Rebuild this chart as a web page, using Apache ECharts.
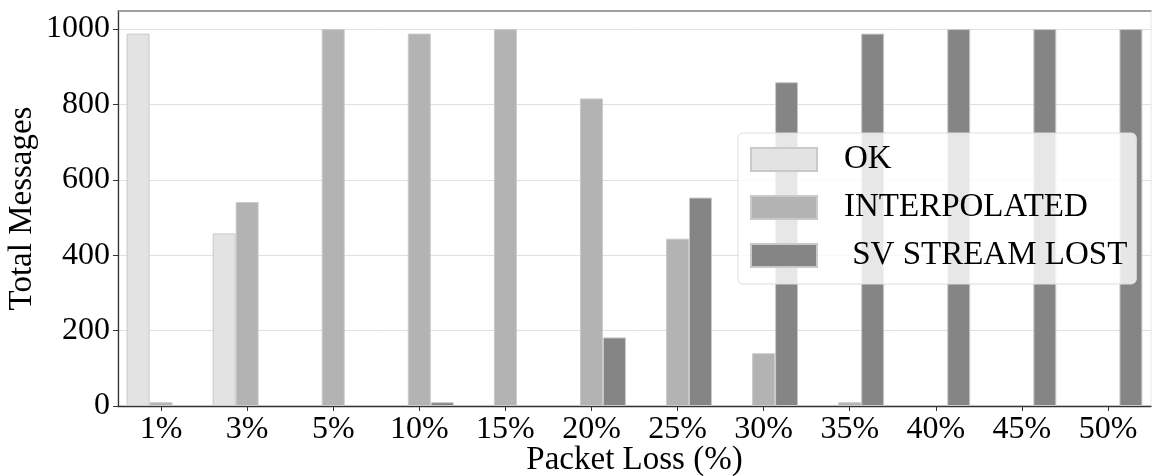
<!DOCTYPE html>
<html>
<head>
<meta charset="utf-8">
<script src="https://cdn.jsdelivr.net/npm/echarts@6/dist/echarts.min.js"></script>
<style>
  html, body { margin: 0; padding: 0; background: #fff; }
  #chart { width: 1152px; height: 476px; }
</style>
</head>
<body>
<div id="chart"></div>
<script>
// packet loss levels
const categories = ['1%', '3%', '5%', '10%', '15%', '20%', '25%', '30%', '35%', '40%', '45%', '50%']
// message counts
const okValues = [988, 458, 0, 0, 0, 0, 0, 0, 0, 0, 0, 0]
const interpolatedValues = [10, 541, 1000, 988, 1000, 816, 444, 140, 10, 0, 0, 0]
const lostValues = [0, 0, 0, 10, 0, 182, 553, 859, 988, 1000, 1000, 1000]
const yTicks = [0, 200, 400, 600, 800, 1000]

const fontFamily = '"Liberation Serif", "DejaVu Serif", serif'

const chart = echarts.init(document.getElementById('chart'))

function barSeries(name, data, color) {
  return {
    name: name,
    type: 'bar',
    // empty bars draw nothing (no edge line on the axis)
    data: data.map(v => (v === 0 ? '-' : v)),
    barGap: '0%',
    barCategoryGap: '20%',
    itemStyle: { color: color, borderColor: '#c9c9c9', borderWidth: 1 },
    emphasis: { disabled: true },
    animation: false
  }
}

chart.setOption({
  textStyle: { fontFamily: fontFamily },
  grid: {
    left: 118, right: 1, top: 11, bottom: 70,
    containLabel: false,
    outerBoundsMode: 'none',
    show: true, borderColor: '#e6e6e6', borderWidth: 1, backgroundColor: 'transparent'
  },
  legend: {
    orient: 'vertical',
    left: 738,
    top: 133,
    padding: [10, 9, 12, 12],
    icon: 'rect',
    itemWidth: 66,
    itemHeight: 23,
    itemGap: 15,
    backgroundColor: 'rgba(255,255,255,0.8)',
    borderColor: '#dddddd',
    borderWidth: 1,
    borderRadius: 5,
    textStyle: { fontFamily: fontFamily, fontSize: 33, lineHeight: 33, color: '#000', padding: [0, 0, 0, 22] },
    data: ['OK', 'INTERPOLATED', ' SV STREAM LOST']
  },
  xAxis: [{
    type: 'category',
    data: categories,
    name: 'Packet Loss (%)',
    nameLocation: 'middle',
    nameGap: 38,
    nameMoveOverlap: false,
    nameTextStyle: { fontFamily: fontFamily, fontSize: 33, color: '#000' },
    axisLine: { show: true, lineStyle: { color: '#333', width: 1.3 } },
    axisTick: { show: true, alignWithLabel: true, length: 5, lineStyle: { color: '#333' } },
    axisLabel: { fontFamily: fontFamily, fontSize: 32, color: '#000', margin: 8 },
    splitLine: { show: false }
  }, {
    type: 'category',
    data: categories,
    position: 'top',
    axisLine: { show: true, lineStyle: { color: '#888', width: 1.5 } },
    axisTick: { show: false },
    axisLabel: { show: false },
    splitLine: { show: false }
  }],
  yAxis: {
    type: 'value',
    min: 0,
    max: 1048,
    interval: 200,
    name: 'Total Messages',
    nameLocation: 'middle',
    nameGap: 79,
    nameMoveOverlap: false,
    nameTextStyle: { fontFamily: fontFamily, fontSize: 33, color: '#000' },
    axisLine: { show: true, lineStyle: { color: '#333', width: 1.3 } },
    axisTick: { show: true, length: 5, lineStyle: { color: '#333' } },
    axisLabel: {
      fontFamily: fontFamily, fontSize: 32, color: '#000', margin: 8,
      showMaxLabel: false,
      formatter: v => (yTicks.indexOf(v) >= 0 ? String(v) : '')
    },
    splitLine: { show: true, lineStyle: { color: '#e0e0e0', width: 1 } }
  },
  series: [
    barSeries('OK', okValues, '#e3e3e3'),
    barSeries('INTERPOLATED', interpolatedValues, '#b3b3b3'),
    barSeries(' SV STREAM LOST', lostValues, '#858585')
  ]
})
</script>
</body>
</html>
